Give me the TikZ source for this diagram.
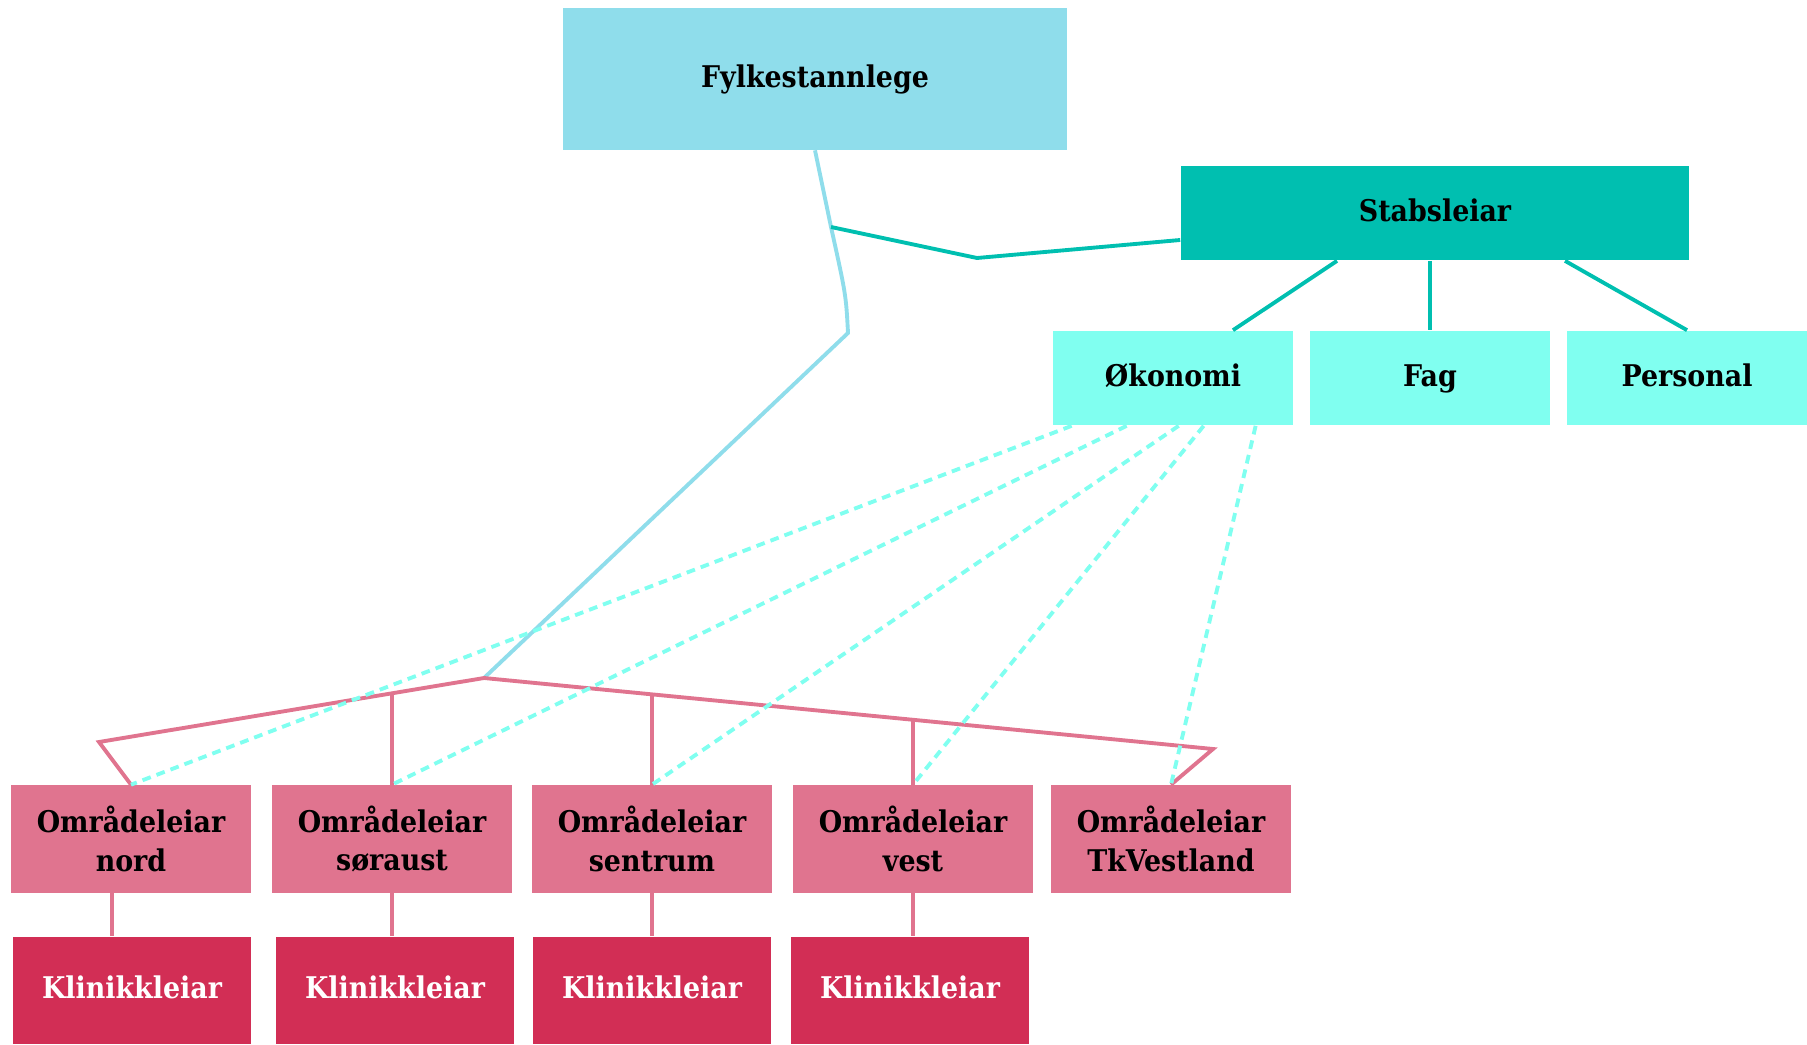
\documentclass[tikz,border=0pt]{standalone}
\usepackage{fontspec}
\setmainfont{DejaVu Serif Condensed}
\definecolor{fylke}{HTML}{8FDDEB}
\definecolor{stab}{HTML}{00BFB0}
\definecolor{stabfag}{HTML}{80FFF0}
\definecolor{omr}{HTML}{E0748F}
\definecolor{klin}{HTML}{D22E55}

\begin{document}
\begin{tikzpicture}[x=0.02cm, y=-0.02cm,
    box/.style={rectangle, inner sep=0pt, align=center,
      font=\bfseries\fontsize{17}{22}\selectfont},
    onebox/.style={box, text height=0.95em, text depth=0pt},
    stabbox/.style={onebox, fill=stabfag, minimum width=4.8cm, minimum height=1.9cm},
    omrbox/.style={box, fill=omr, minimum width=4.8cm, minimum height=2.16cm},
    klinbox/.style={onebox, fill=klin, text=white, minimum width=4.76cm, minimum height=2.14cm},
    link/.style={line width=2.2pt},
    sub/.style={draw=omr, line width=1.9pt}]
    \useasboundingbox (0,0) rectangle (1807,1044);
    % top
    \node[onebox, fill=fylke, minimum width=10.1cm, minimum height=2.84cm] (fyl) at (815,79) {Fylkestannlege};
    \node[onebox, fill=stab, minimum width=10.18cm, minimum height=1.9cm] (stab) at (1435,213) {Stabsleiar};
    \node[stabbox] (oko) at (1173,378) {Økonomi};
    \node[stabbox] (fag) at (1430,378) {Fag};
    \node[stabbox] (pers) at (1687,378) {Personal};
    % omraade
    \node[omrbox] (om1) at (131,839) {Områdeleiar\\nord};
    \node[omrbox] (om2) at (392,839) {Områdeleiar\\søraust};
    \node[omrbox] (om3) at (652,839) {Områdeleiar\\sentrum};
    \node[omrbox] (om4) at (913,839) {Områdeleiar\\vest};
    \node[omrbox] (om5) at (1171,839) {Områdeleiar\\TkVestland};
    % klinikk
    \node[klinbox] (kl1) at (132,990) {Klinikkleiar};
    \node[klinbox] (kl2) at (395,990) {Klinikkleiar};
    \node[klinbox] (kl3) at (652,990) {Klinikkleiar};
    \node[klinbox] (kl4) at (910,990) {Klinikkleiar};
    % bends
    \coordinate (b1) at (831,227);
    \coordinate (b2) at (848,333);
    \coordinate (t2) at (977,258);
    \coordinate (hub) at (484,678);
    \coordinate (lc) at (99,742);
    \coordinate (rc) at (1213,749);
    \coordinate (d2) at (392,693);
    \coordinate (d3) at (652,694);
    \coordinate (d4) at (913,720);
    % lines
    \draw[link, fylke] (fyl.south) -- (b1) .. controls (846,295) .. (b2) -- (hub);
    \draw[link, stab] (b1) -- (t2) -- ([yshift=-0.54cm]stab.west);
    \draw[link, stab] ([xshift=-1.96cm]stab.south) -- ([xshift=1.2cm]oko.north);
    \draw[link, stab] (fag.north |- stab.south) -- (fag.north);
    \draw[link, stab] ([xshift=2.6cm]stab.south) -- (pers.north);
    \draw[link, omr] (om1.north) -- (lc) -- (hub) -- (rc) -- (om5.north);
    \draw[sub] (d2) -- (om2.north);
    \draw[sub] (d3) -- (om3.north);
    \draw[sub] (d4) -- (om4.north);
    \draw[link, stabfag, dash pattern=on 5pt off 3.5pt] ([xshift=0.38cm]oko.south west) -- (om1.north);
    \draw[link, stabfag, dash pattern=on 5pt off 3.5pt] ([xshift=1.48cm]oko.south west) -- (om2.north);
    \draw[link, stabfag, dash pattern=on 5pt off 3.5pt] ([xshift=2.52cm]oko.south west) -- (om3.north);
    \draw[link, stabfag, dash pattern=on 5pt off 3.5pt] ([xshift=3.02cm]oko.south west) -- (om4.north);
    \draw[link, stabfag, dash pattern=on 5pt off 3.5pt] ([xshift=4.06cm]oko.south west) -- (om5.north);
    \draw[sub] ([xshift=-0.38cm]om1.south) -- ([xshift=-0.38cm]om1.south |- kl1.north);
    \draw[sub] (om2.south) -- (om2.south |- kl2.north);
    \draw[sub] (om3.south) -- (om3.south |- kl3.north);
    \draw[sub] (om4.south) -- (om4.south |- kl4.north);
\end{tikzpicture}
\end{document}
